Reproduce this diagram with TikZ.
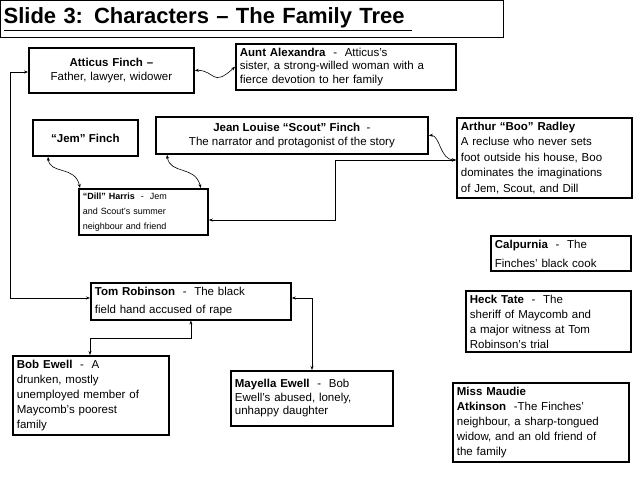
\documentclass[tikz,border=0pt]{standalone}
\usepackage{fontspec}
\setmainfont{Liberation Sans}
\usetikzlibrary{arrows.meta}
\begin{document}
\begin{tikzpicture}[x=1pt,y=-1pt]
\tikzstyle{person} = [rectangle, draw, line width=1.8pt, anchor=north west,
 font=\fontsize{11.5}{13.5}\selectfont, inner sep=4pt, align=left]
\tikzstyle{link} = [draw, line width=0.6pt, {Stealth[length=4pt]}-{Stealth[length=4pt]}]
\useasboundingbox (0,0) rectangle (638,479);
% title
\node [draw, line width=1.2pt, anchor=north west, text width=497pt, minimum height=37pt,
 inner sep=3pt, align=left, font=\fontsize{22}{24}\bfseries\selectfont] (title) at (0,0)
 {\underline{Slide 3: Characters -- The Family Tree\ }};
% row 1
\node [person, minimum width=165pt, minimum height=45pt, align=center, text width=155pt] (atticus) at (28,47)
 {\textbf{Atticus Finch --}\\Father, lawyer, widower};
\node [person, text width=212pt] (aunt) at (235,43)
 {\textbf{Aunt Alexandra} \ - \ Atticus's\\sister, a strong-willed woman with a\\fierce devotion to her family};
% row 2
\node [person, minimum width=105pt, minimum height=36pt, align=center] (jem) at (32,119) {\textbf{“Jem” Finch}};
\node [person, minimum width=272pt, minimum height=37pt, align=center] (scout) at (155,116)
 {\textbf{Jean Louise “Scout” Finch} \ -\\The narrator and protagonist of the story};
\node [person, text width=167pt, font=\fontsize{11.5}{15.5}\selectfont] (arthur) at (456,117)
 {\textbf{Arthur “Boo” Radley}\\A recluse who never sets\\foot outside his house, Boo\\dominates the imaginations\\of Jem, Scout, and Dill};
\node [person, text width=121pt, font=\fontsize{9}{15}\selectfont] (dill) at (78,188)
 {\textbf{“Dill” Harris} \ - \ Jem\\and Scout's summer\\neighbour and friend};
% right column
\node [person, text width=132pt, font=\fontsize{11.5}{19}\selectfont] (calpurnia) at (490,235)
 {\textbf{Calpurnia} \ - \ The\\Finches' black cook};
\node [person, text width=157pt, font=\fontsize{11.5}{15}\selectfont] (heck) at (465,290)
 {\textbf{Heck Tate} \ - \ The\\sheriff of Maycomb and\\a major witness at Tom\\Robinson's trial};
\node [person, text width=168pt, font=\fontsize{11.5}{15}\selectfont] (maudie) at (452,382)
 {\textbf{Miss Maudie}\\\textbf{Atkinson} \ -The Finches'\\neighbour, a sharp-tongued\\widow, and an old friend of\\the family};
% trial
\node [person, text width=192pt, font=\fontsize{11.5}{18}\selectfont] (tom) at (90,282)
 {\textbf{Tom Robinson} \ - \ The black\\field hand accused of rape};
\node [person, text width=148pt, font=\fontsize{11.5}{15}\selectfont] (bob) at (12,355)
 {\textbf{Bob Ewell} \ - \ A\\drunken, mostly\\unemployed member of\\Maycomb's poorest\\family};
\node [person, text width=154pt, minimum height=55pt] (mayella) at (230,370)
 {\textbf{Mayella Ewell} \ - \ Bob\\Ewell's abused, lonely,\\unhappy daughter};
% connectors
\coordinate (left) at (10,72);
\path [link] (atticus.east) .. controls (215,70) and (212,88) .. (aunt.west);
\path [link] (jem.south west) ++(16,0) .. controls (50,175) and (75,165) .. ([xshift=2pt]dill.north west);
\path [link] (scout.south west) ++(12,0) .. controls (170,175) and (195,165) .. ([xshift=-8pt]dill.north east);
\path [link] (scout.east) .. controls (440,135) and (440,160) .. (arthur.west |- 0,160);
\path [link] (arthur.west |- 0,160) -| (335,220) -- (dill.east |- 0,220);
\path [link] (atticus.west |- left) -- (left) |- (tom.west |- 0,298);
\path [link] (tom.south) ++(0,0) |- (90,338) -- (bob.north -| 90,0);
\path [link] (tom.east |- 0,298) -| (mayella.north -| 312,0);
\end{tikzpicture}
\end{document}
